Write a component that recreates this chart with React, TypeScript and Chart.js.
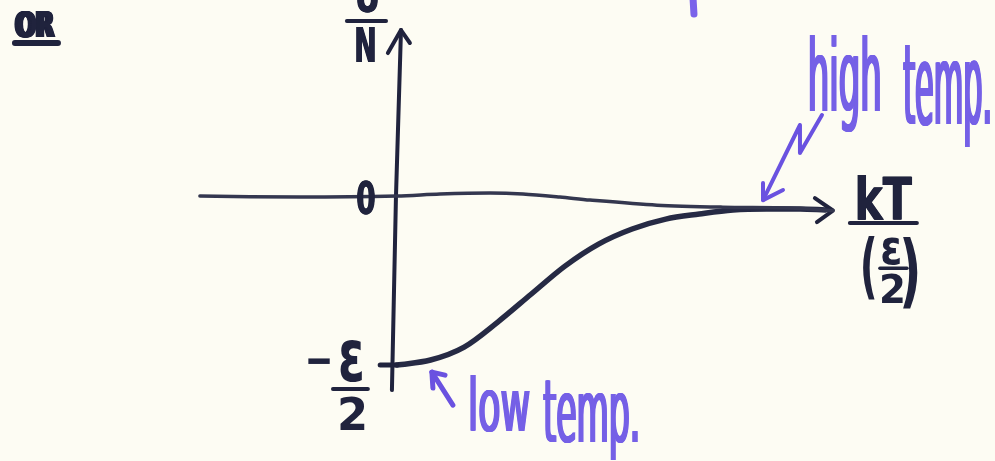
import React, { useEffect, useRef } from "react";
import { Chart, registerables } from "chart.js";

Chart.register(...registerables);

// Horizontal unit: kT/(ε/2); vertical unit: U/N measured in ε/2.
const energyT = [0, 0.2, 0.4, 0.6, 0.8, 1.0, 1.2, 1.4, 1.6, 1.8, 2.0, 2.2, 2.4, 2.55];
const energyU = [-1.0, -0.97, -0.893, -0.744, -0.577, -0.411, -0.28, -0.19, -0.131, -0.101, -0.077, -0.071, -0.071, -0.077];

// Hand-drawn temperature axis (slight wobble along its length)
const axisT = [-1.173, -0.577, 0, 0.256, 0.554, 0.75, 0.97, 1.149, 1.548, 1.94, 2.339, 2.595];
const axisU = [0.006, 0, 0.006, 0.018, 0.024, 0.018, 0, -0.018, -0.048, -0.06, -0.065, -0.08];
const axisHeadT = [2.488, 2.595, 2.5];
const axisHeadU = [-0.006, -0.08, -0.149];

// Energy axis
const energyAxisT = [0.024, -0.006, -0.03];
const energyAxisU = [0.994, 0, -1.149];
const energyHeadT = [-0.054, 0.024, 0.077];
const energyHeadU = [0.857, 0.994, 0.917];

// Tick mark at U/N = -ε/2
const tickT = [-0.1, 0];
const tickU = [-1.0, -1.0];

// Pointer to the high-temperature end
const highPointerT = [2.179, 2.399, 2.399, 2.53];
const highPointerU = [-0.018, 0.429, 0.262, 0.488];
const highHeadT = [2.179, 2.179, 2.298];
const highHeadU = [0.083, -0.018, 0.042];

// Pointer to the low-temperature end
const lowPointerT = [0.333, 0.208];
const lowPointerU = [-1.238, -1.042];
const lowHeadT = [0.214, 0.208, 0.286];
const lowHeadU = [-1.137, -1.042, -1.06];

// Stray stroke at the top edge
const strayT = [1.762, 1.768];
const strayU = [1.19, 1.089];

const INK = "#20233d";
const VIOLET = "#6a52e0";
const VIOLET_TEXT = "#7560e6";

type Box = { text: string; x0: number; y0: number; x1: number; y1: number; color: string; weight: string; thick: number };
type Bar = { x0: number; x1: number; y: number; w: number };

const textBoxes: Box[] = [
  { text: "OR", x0: -2.28, y0: 1.1, x1: -2.03, y1: 0.952, color: INK, weight: "bold", thick: 4 },
  { text: "U", x0: -0.238, y0: 1.298, x1: -0.113, y1: 1.095, color: INK, weight: "bold", thick: 1 },
  { text: "N", x0: -0.244, y0: 1.012, x1: -0.131, y1: 0.804, color: INK, weight: "bold", thick: 1 },
  { text: "0", x0: -0.238, y0: 0.101, x1: -0.131, y1: -0.107, color: INK, weight: "bold", thick: 1 },
  { text: "−", x0: -0.53, y0: -0.952, x1: -0.399, y1: -0.994, color: INK, weight: "bold", thick: 0 },
  { text: "ε", x0: -0.339, y0: -0.851, x1: -0.208, y1: -1.101, color: INK, weight: "bold", thick: 0 },
  { text: "2", x0: -0.339, y0: -1.19, x1: -0.19, y1: -1.387, color: INK, weight: "bold", thick: 0 },
  { text: "kT", x0: 2.738, y0: 0.131, x1: 3.071, y1: -0.137, color: INK, weight: "bold", thick: 1 },
  { text: "(", x0: 2.774, y0: -0.226, x1: 2.845, y1: -0.613, color: INK, weight: "bold", thick: 0 },
  { text: "ε", x0: 2.887, y0: -0.238, x1: 2.994, y1: -0.405, color: INK, weight: "bold", thick: 0 },
  { text: "2", x0: 2.887, y0: -0.452, x1: 3.012, y1: -0.631, color: INK, weight: "bold", thick: 0 },
  { text: ")", x0: 3.012, y0: -0.238, x1: 3.101, y1: -0.673, color: INK, weight: "bold", thick: 0 },
  { text: "high", x0: 2.458, y0: 0.964, x1: 2.875, y1: 0.387, color: VIOLET_TEXT, weight: "normal", thick: 2 },
  { text: "temp.", x0: 3.012, y0: 0.905, x1: 3.53, y1: 0.298, color: VIOLET_TEXT, weight: "normal", thick: 2 },
  { text: "low", x0: 0.435, y0: -1.06, x1: 0.792, y1: -1.399, color: VIOLET_TEXT, weight: "normal", thick: 2 },
  { text: "temp.", x0: 0.869, y0: -1.089, x1: 1.435, y1: -1.565, color: VIOLET_TEXT, weight: "normal", thick: 2 },
];

// Fraction bars and the underline under "OR"
const bars: Bar[] = [
  { x0: -2.274, x1: -2.018, y: 0.917, w: 6 },
  { x0: -0.298, x1: -0.065, y: 1.048, w: 4 },
  { x0: -0.381, x1: -0.173, y: -1.143, w: 4 },
  { x0: 2.696, x1: 3.095, y: -0.155, w: 4 },
  { x0: 2.875, x1: 3.036, y: -0.423, w: 3.5 },
];

const zip = (t: number[], u: number[]) => t.map((v, i) => ({ x: v, y: u[i] }));

// Draws text squeezed into a box; `thick` widens pen strokes horizontally in device pixels.
function fitText(ctx: CanvasRenderingContext2D, b: Box, left: number, top: number, right: number, bottom: number) {
  const family = '"DejaVu Sans", sans-serif';
  ctx.save();
  ctx.textAlign = "left";
  ctx.textBaseline = "alphabetic";
  ctx.font = `${b.weight} 100px ${family}`;
  let m = ctx.measureText(b.text);
  const h0 = m.actualBoundingBoxAscent + m.actualBoundingBoxDescent;
  const size = (100 * (bottom - top)) / h0;
  ctx.font = `${b.weight} ${size}px ${family}`;
  m = ctx.measureText(b.text);
  const w = m.actualBoundingBoxLeft + m.actualBoundingBoxRight;
  const h = m.actualBoundingBoxAscent + m.actualBoundingBoxDescent;
  const kx = (right - left - b.thick) / w;
  ctx.translate(left, top);
  ctx.scale(kx, (bottom - top) / h);
  ctx.fillStyle = b.color;
  const steps = Math.max(1, Math.round(b.thick * 2) + 1);
  for (let i = 0; i < steps; i++) {
    const off = steps > 1 ? (b.thick * i) / (steps - 1) : 0;
    ctx.fillText(b.text, m.actualBoundingBoxLeft + off / kx, m.actualBoundingBoxAscent);
  }
  ctx.restore();
}

const sketchLabels = {
  id: "sketchLabels",
  afterDatasetsDraw(chart: Chart) {
    const { ctx } = chart;
    const sx = chart.scales.x;
    const sy = chart.scales.y;
    for (const b of textBoxes) {
      fitText(ctx, b, sx.getPixelForValue(b.x0), sy.getPixelForValue(b.y0), sx.getPixelForValue(b.x1), sy.getPixelForValue(b.y1));
    }
    ctx.save();
    ctx.strokeStyle = INK;
    ctx.lineCap = "round";
    for (const r of bars) {
      ctx.beginPath();
      ctx.lineWidth = r.w;
      ctx.moveTo(sx.getPixelForValue(r.x0), sy.getPixelForValue(r.y));
      ctx.lineTo(sx.getPixelForValue(r.x1), sy.getPixelForValue(r.y));
      ctx.stroke();
    }
    ctx.restore();
  },
};

const stroke = (data: { x: number; y: number }[], color: string, width: number, tension = 0) => ({
  data,
  borderColor: color,
  borderWidth: width,
  pointRadius: 0,
  tension,
  borderCapStyle: "round" as const,
  borderJoinStyle: "round" as const,
  fill: false,
});

export default function App() {
  const ref = useRef<HTMLCanvasElement | null>(null);

  useEffect(() => {
    if (!ref.current) return;
    const chart = new Chart(ref.current, {
      type: "line",
      data: {
        datasets: [
          stroke(zip(axisT, axisU), "#34374f", 3.5, 0.3),
          stroke(zip(axisT, axisU), "rgba(205,210,225,0.85)", 1, 0.3),
          stroke(zip(axisHeadT, axisHeadU), INK, 4),
          stroke(zip(energyAxisT, energyAxisU), INK, 4),
          stroke(zip(energyHeadT, energyHeadU), INK, 4),
          stroke(zip(tickT, tickU), INK, 5),
          { ...stroke(zip(energyT, energyU), "#262a44", 5.5), cubicInterpolationMode: "monotone" as const },
          stroke(zip(highPointerT, highPointerU), VIOLET, 4),
          stroke(zip(highHeadT, highHeadU), VIOLET, 4),
          stroke(zip(lowPointerT, lowPointerU), VIOLET, 5),
          stroke(zip(lowHeadT, lowHeadU), VIOLET, 5),
          stroke(zip(strayT, strayU), "#7a63ea", 7),
        ],
      },
      options: {
        animation: false,
        responsive: false,
        layout: { padding: 0 },
        scales: {
          x: { type: "linear", min: -2.363, max: 3.56, display: false },
          y: { type: "linear", min: -1.571, max: 1.173, display: false },
        },
        plugins: { legend: { display: false }, tooltip: { enabled: false } },
      },
      plugins: [sketchLabels],
    });
    return () => chart.destroy();
  }, []);

  return (
    <div style={{ position: "fixed", left: 0, top: 0, width: 995, height: 461, background: "#fdfcf3" }}>
      <canvas ref={ref} width={995} height={461} />
    </div>
  );
}
